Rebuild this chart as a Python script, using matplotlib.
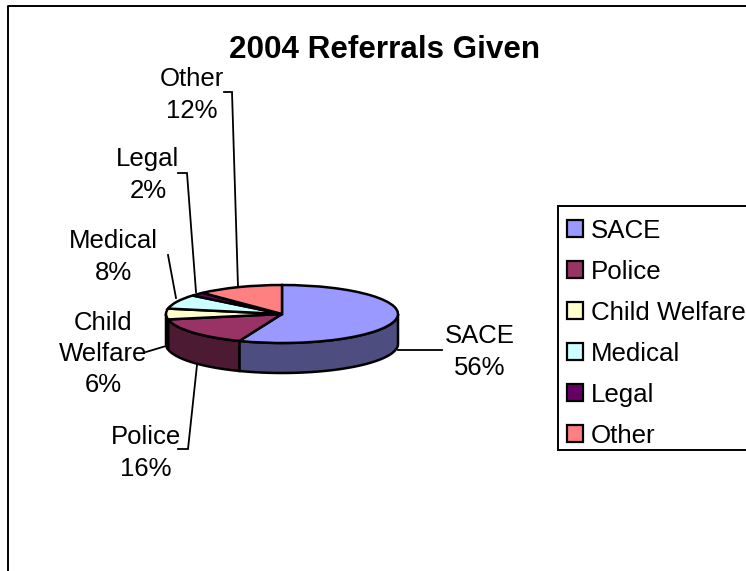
import numpy as np
import matplotlib
matplotlib.use("Agg")
import matplotlib.pyplot as plt
from matplotlib.patches import Patch, Rectangle

plt.rcParams['font.family'] = ['Liberation Sans', 'DejaVu Sans']

# chart data
categories = ["SACE", "Police", "Child Welfare", "Medical", "Legal", "Other"]
shares = [56, 16, 6, 8, 2, 12]
top_colors = ["#9999FF", "#993366", "#FFFFCC", "#CCFFFF", "#660066", "#FF8080"]
side_colors = ["#4D4D80", "#4D1A33", "#808066", "#668080", "#330033", "#804040"]

W, H = 746, 571
# ellipse of the pie, in pixels
cx, cy, rx, ry = 282, 314, 116, 29
depth = 30 / ry

fig = plt.figure(figsize=(W / 100, H / 100), dpi=100)

# pie axes: one data unit = one radius, squashed so the circle is an ellipse
ax = fig.add_axes([0, 0, 1, 1])
wedges, _ = ax.pie(shares, colors=top_colors, startangle=90, counterclock=False,
                   wedgeprops=dict(edgecolor="black", linewidth=1.8))
ax.set_aspect('auto')
ax.set_xlim(-cx / rx, (W - cx) / rx)
ax.set_ylim((cy - H) / ry, cy / ry)
ax.axis('off')

# side wall, only the front half is visible
for w, c in zip(wedges, side_colors):
    lo = max(w.theta1, -180)
    hi = min(w.theta2, 0)
    if lo >= hi:
        continue
    t = np.radians(np.linspace(lo, hi, 60))
    xs = np.r_[np.cos(t), np.cos(t)[::-1]]
    ys = np.r_[np.sin(t), np.sin(t)[::-1] - depth]
    ax.fill(xs, ys, facecolor=c, edgecolor="black", linewidth=1.8, zorder=0.5)

# overlay in pixel coordinates for frame, title, labels
ov = fig.add_axes([0, 0, 1, 1], facecolor="none")
ov.set_xlim(0, W)
ov.set_ylim(H, 0)
ov.axis('off')

# chart frame runs off the right and bottom of the picture
ov.plot([8, 8, W + 5], [H + 5, 6, 6], color="black", lw=1.4)

ov.text(384.5, 50, "2004 Referrals Given", fontsize=22.6, fontweight="bold",
        ha="center", va="center")

# label text and percent
label_pos = [(480, 352), (146, 453), (103, 354), (113, 257), (148, 175), (192, 95)]
label_names = ["SACE", "Police", "Child\nWelfare", "Medical", "Legal", "Other"]
for (x, y), name, s in zip(label_pos, label_names, shares):
    ov.text(x, y, f"{name}\n{s}%", fontsize=18.5, ha="center", va="center",
            multialignment="center", linespacing=1.38)

# leader lines
leaders = [
    ([398, 442], [350, 350]),
    ([197, 188, 178], [365, 449, 449]),
    ([166, 146], [346, 352]),
    ([176, 168], [298, 255]),
    ([196, 187, 178], [292, 173, 173]),
    ([238, 232, 224], [287, 92, 92]),
]
for xs, ys in leaders:
    ov.plot(xs, ys, color="black", lw=1.3, solid_joinstyle="miter")

# legend box drawn apart, it is not even around the rows
ov.add_patch(Rectangle((558, 206), 200, 244, facecolor="white", edgecolor="black",
                       linewidth=1.4, zorder=2))
handles = [Patch(facecolor=c, edgecolor="black", linewidth=1.6) for c in top_colors]
leg = ov.legend(handles, categories, loc="upper left",
                bbox_to_anchor=(554.5 / W, 1 - 206 / H), bbox_transform=fig.transFigure,
                fontsize=18.6, frameon=False, borderaxespad=0, borderpad=0.5,
                labelspacing=0.655, handlelength=0.62, handleheight=0.62,
                handletextpad=0.3)
leg.set_zorder(3)

fig.savefig("out.png", dpi=100)
